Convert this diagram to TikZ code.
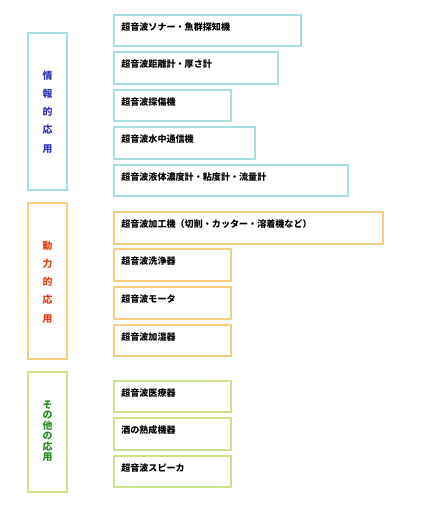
\documentclass[tikz,border=0pt]{standalone}
\usepackage{fontspec}
\newfontfamily\jpfont{Noto Sans CJK JP}
\usepackage{tikz}
\definecolor{infoline}{RGB}{168,222,222}
\definecolor{infotext}{RGB}{51,51,187}
\definecolor{powerline}{RGB}{248,204,128}
\definecolor{powertext}{RGB}{232,62,22}
\definecolor{otherline}{RGB}{202,226,142}
\definecolor{othertext}{RGB}{40,140,30}

\begin{document}
\begin{tikzpicture}[x=0.75pt,y=-0.75pt,
  item/.style={anchor=west,inner sep=0pt,font=\jpfont\bfseries\fontsize{6.8}{8}\selectfont},
  side/.style={align=center,inner sep=0pt,font=\jpfont\bfseries\fontsize{7.4}{13.7}\selectfont},
  infobox/.style={draw=infoline,line width=1.1pt},
  powerbox/.style={draw=powerline,line width=1.1pt},
  otherbox/.style={draw=otherline,line width=1.1pt}]
\useasboundingbox (0,0) rectangle (425,510);
% information
\draw[infobox] (28,33) rectangle (67,190);
\node[side,text=infotext] (info) at (47.5,112) {情\\報\\的\\応\\用};
\draw[infobox] (114,15) rectangle (301,46);
\draw[infobox] (114,52) rectangle (278,84);
\draw[infobox] (114,90) rectangle (231,121);
\draw[infobox] (114,127) rectangle (255,159);
\draw[infobox] (114,165) rectangle (348,196);
\node[item] (sonar) at (121,27) {超音波ソナー・魚群探知機};
\node[item] (range) at (121,64) {超音波距離計・厚さ計};
\node[item] (flaw) at (121,102) {超音波探傷機};
\node[item] (comm) at (121,139) {超音波水中通信機};
\node[item] (liquid) at (121,177) {超音波液体濃度計・粘度計・流量計};
% power
\draw[powerbox] (28,203) rectangle (67,359);
\node[side,text=powertext] (power) at (47.5,282) {動\\力\\的\\応\\用};
\draw[powerbox] (114,212) rectangle (383,244);
\draw[powerbox] (114,249) rectangle (231,281);
\draw[powerbox] (114,287) rectangle (231,319);
\draw[powerbox] (114,325) rectangle (231,356);
\node[item] (machining) at (121,224) {超音波加工機（切削・カッター・溶着機など）};
\node[item] (cleaner) at (121,261) {超音波洗浄器};
\node[item] (motor) at (121,299) {超音波モータ};
\node[item] (humid) at (121,337) {超音波加湿器};
% others
\draw[otherbox] (28,372) rectangle (67,492);
\node[side,text=othertext,font=\jpfont\bfseries\fontsize{7.4}{7.8}\selectfont] (other) at (47.5,431) {そ\\の\\他\\の\\応\\用};
\draw[otherbox] (114,381) rectangle (231,412);
\draw[otherbox] (114,418) rectangle (231,450);
\draw[otherbox] (114,456) rectangle (231,487);
\node[item] (medical) at (121,393) {超音波医療器};
\node[item] (sake) at (121,430) {酒の熟成機器};
\node[item] (speaker) at (121,468) {超音波スピーカ};
\end{tikzpicture}
\end{document}
